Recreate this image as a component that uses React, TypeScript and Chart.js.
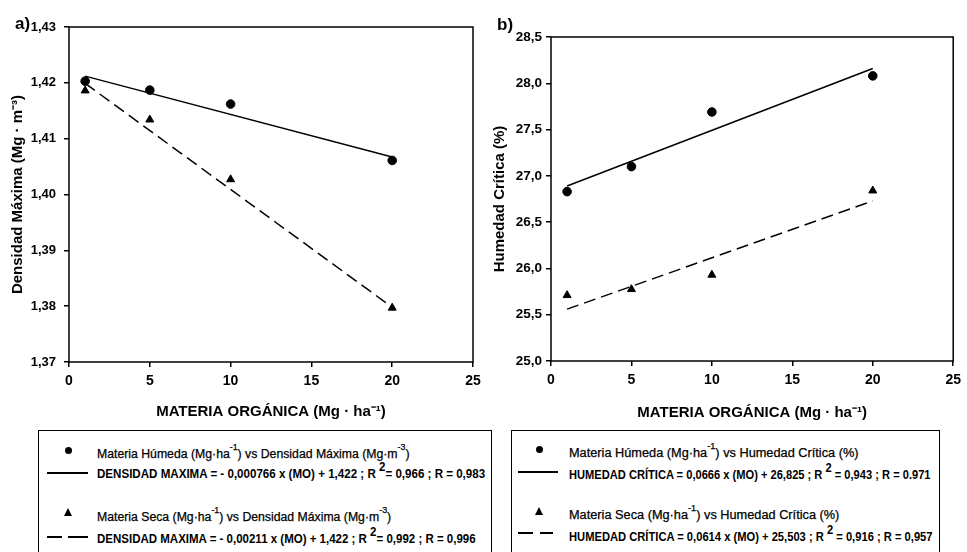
import React, { useEffect, useRef } from "react";
import { Chart, registerables } from "chart.js";

Chart.register(...registerables);

const NARROW = "'Liberation Sans Narrow', 'Arial Narrow', 'Liberation Sans', Arial, sans-serif";
const SANS = "'Liberation Sans', Arial, sans-serif";

// ---- data ----
const materiaOrganica = [1, 5, 10, 20];
const fitRange = [1, 20];
const xTickValues = [0, 5, 10, 15, 20, 25];

const densidadHumeda = [1.4203, 1.4187, 1.4162, 1.4061];
const densidadSeca = [1.4186, 1.4134, 1.4027, 1.3797];
const densidadFitHumeda = [1.4212, 1.4067];
const densidadFitSeca = [1.4199, 1.3798];
const densidadTicks = [1.37, 1.38, 1.39, 1.4, 1.41, 1.42, 1.43];

const humedadHumeda = [26.83, 27.1, 27.69, 28.08];
const humedadSeca = [25.71, 25.775, 25.93, 26.84];
const humedadFitHumeda = [26.89, 28.16];
const humedadFitSeca = [25.56, 26.73];
const humedadTicks = [25.0, 25.5, 26.0, 26.5, 27.0, 27.5, 28.0, 28.5];

const xTitle = "MATERIA ORGÁNICA (Mg · ha⁻¹)";
const yTitleA = "Densidad Máxima (Mg · m⁻³)";
const yTitleB = "Humedad Crítica (%)";

const framePlugin = {
  id: "frame",
  beforeDatasetsDraw(chart: any) {
    const { ctx, chartArea } = chart;
    ctx.save();
    ctx.strokeStyle = "#000";
    ctx.lineWidth = 1.5;
    ctx.strokeRect(chartArea.left, chartArea.top, chartArea.right - chartArea.left, chartArea.bottom - chartArea.top);
    ctx.restore();
  },
};

type PanelSpec = {
  humeda: number[];
  seca: number[];
  fitHumeda: number[];
  fitSeca: number[];
  yTicks: number[];
  decimals: number;
  yTitle: string;
  padTop: number;
  padRight: number;
  yWidth: number;
  xHeight: number;
  yTickPad: number;
  yTickSize: number;
  yTitlePad: number;
  xTitlePad: number;
};

function makeConfig(p: PanelSpec): any {
  const pts = (xs: number[], ys: number[]) => xs.map((x, i) => ({ x, y: ys[i] }));
  const gridCommon = {
    display: true,
    drawOnChartArea: false,
    drawTicks: true,
    tickLength: 5,
    color: "#000",
    lineWidth: 1.5,
  };
  return {
    type: "scatter",
    data: {
      datasets: [
        {
          label: "Materia Húmeda",
          data: pts(materiaOrganica, p.humeda),
          pointStyle: "circle",
          pointRadius: 4.3,
          backgroundColor: "#000",
          borderColor: "#000",
          showLine: false,
        },
        {
          label: "Materia Seca",
          data: pts(materiaOrganica, p.seca),
          pointStyle: "triangle",
          pointRadius: 4.6,
          backgroundColor: "#000",
          borderColor: "#000",
          showLine: false,
        },
        {
          label: "fit húmeda",
          data: pts(fitRange, p.fitHumeda),
          showLine: true,
          borderColor: "#000",
          borderWidth: 1.5,
          pointRadius: 0,
        },
        {
          label: "fit seca",
          data: pts(fitRange, p.fitSeca),
          showLine: true,
          borderColor: "#000",
          borderWidth: 1.5,
          borderDash: [12, 6],
          pointRadius: 0,
        },
      ],
    },
    options: {
      responsive: false,
      animation: false,
      devicePixelRatio: 1,
      layout: { padding: { top: p.padTop, right: p.padRight, left: 0, bottom: 0 } },
      plugins: { legend: { display: false }, tooltip: { enabled: false } },
      scales: {
        x: {
          type: "linear",
          min: 0,
          max: 25,
          afterBuildTicks: (s: any) => {
            s.ticks = xTickValues.map((v) => ({ value: v }));
          },
          afterFit: (s: any) => {
            s.height = p.xHeight;
          },
          ticks: {
            color: "#000",
            padding: 6,
            maxRotation: 0,
            autoSkip: false,
            font: { family: SANS, size: 14, weight: "bold" },
            callback: (v: any) => String(v),
          },
          grid: gridCommon,
          border: { display: false },
          title: {
            display: true,
            text: xTitle,
            color: "#000",
            font: { family: NARROW, size: 15, weight: "bold" },
            padding: { top: 0, bottom: p.xTitlePad },
          },
        },
        y: {
          type: "linear",
          min: p.yTicks[0],
          max: p.yTicks[p.yTicks.length - 1],
          afterBuildTicks: (s: any) => {
            s.ticks = p.yTicks.map((v) => ({ value: v }));
          },
          afterFit: (s: any) => {
            s.width = p.yWidth;
          },
          ticks: {
            color: "#000",
            padding: p.yTickPad,
            autoSkip: false,
            font: { family: NARROW, size: p.yTickSize, weight: "bold" },
            callback: (v: any) => Number(v).toFixed(p.decimals).replace(".", ","),
          },
          grid: gridCommon,
          border: { display: false },
          title: {
            display: true,
            text: p.yTitle,
            color: "#000",
            font: { family: NARROW, size: 15, weight: "bold" },
            padding: { top: p.yTitlePad, bottom: 0 },
          },
        },
      },
    },
    plugins: [framePlugin],
  };
}

const panelA: PanelSpec = {
  humeda: densidadHumeda,
  seca: densidadSeca,
  fitHumeda: densidadFitHumeda,
  fitSeca: densidadFitSeca,
  yTicks: densidadTicks,
  decimals: 2,
  yTitle: yTitleA,
  padTop: 27,
  padRight: 17,
  yWidth: 69,
  xHeight: 68,
  yTickPad: 8,
  yTickSize: 13,
  yTitlePad: 9,
  xTitlePad: 9,
};

const panelB: PanelSpec = {
  humeda: humedadHumeda,
  seca: humedadSeca,
  fitHumeda: humedadFitHumeda,
  fitSeca: humedadFitSeca,
  yTicks: humedadTicks,
  decimals: 1,
  yTitle: yTitleB,
  padTop: 37,
  padRight: 9,
  yWidth: 61,
  xHeight: 69,
  yTickPad: 4,
  yTickSize: 13.5,
  yTitlePad: 1,
  xTitlePad: 8,
};

function ChartPanel({ spec, left, width }: { spec: PanelSpec; left: number; width: number }) {
  const ref = useRef<HTMLCanvasElement | null>(null);
  useEffect(() => {
    if (!ref.current) return;
    const chart = new Chart(ref.current, makeConfig(spec));
    return () => chart.destroy();
  }, [spec]);
  return (
    <canvas
      ref={ref}
      width={width}
      height={430}
      style={{ position: "absolute", left, top: 0, width, height: 430 }}
    />
  );
}

const Dot = ({ x, y }: { x: number; y: number }) => (
  <div
    style={{
      position: "absolute",
      left: x - 3.5,
      top: y - 3.5,
      width: 7,
      height: 7,
      borderRadius: "50%",
      background: "#000",
    }}
  />
);

const Tri = ({ x, y }: { x: number; y: number }) => (
  <svg style={{ position: "absolute", left: x - 4, top: y - 4 }} width={8} height={8}>
    <polygon points="4,0 8,8 0,8" fill="#000" />
  </svg>
);

const HLine = ({ x1, x2, y }: { x1: number; x2: number; y: number }) => (
  <div style={{ position: "absolute", left: x1, top: y - 0.75, width: x2 - x1, height: 1.5, background: "#000" }} />
);

const Txt = ({
  x,
  y,
  bold,
  scale = 1,
  children,
}: {
  x: number;
  y: number;
  bold?: boolean;
  scale?: number;
  children: React.ReactNode;
}) => (
  <div
    style={{
      position: "absolute",
      left: x,
      top: y - 8,
      lineHeight: "16px",
      height: 16,
      fontFamily: NARROW,
      fontSize: 12.5,
      fontWeight: bold ? "bold" : "normal",
      WebkitTextStroke: bold ? undefined : "0.25px #000",
      whiteSpace: "nowrap",
      color: "#000",
      transform: `scaleX(${scale})`,
      transformOrigin: "0 50%",
    }}
  >
    {children}
  </div>
);

const supStyle: React.CSSProperties = { fontSize: 9, verticalAlign: "top", position: "relative", top: -3, lineHeight: "9px" };
const sup2Style: React.CSSProperties = { fontSize: 12.5, verticalAlign: "top", position: "relative", top: -5, lineHeight: "12px" };

export default function App() {
  return (
    <div
      style={{
        position: "fixed",
        left: 0,
        top: 0,
        width: 967,
        height: 552,
        background: "#fff",
        overflow: "hidden",
      }}
    >
      <ChartPanel spec={panelA} left={0} width={490} />
      <ChartPanel spec={panelB} left={490} width={477} />
      <div style={{ position: "absolute", left: 15, top: 13, fontFamily: SANS, fontWeight: "bold", fontSize: 17, lineHeight: "22px" }}>a)</div>
      <div style={{ position: "absolute", left: 497, top: 14, fontFamily: SANS, fontWeight: "bold", fontSize: 17, lineHeight: "22px" }}>b)</div>

      {/* legend a */}
      <div style={{ position: "absolute", left: 38, top: 430, width: 452, height: 140, border: "1.5px solid #000" }} />
      <Dot x={68} y={450} />
      <Txt x={97} y={454} scale={0.98}>
        Materia Húmeda (Mg·ha<span style={supStyle}>-1</span>) vs Densidad Máxima (Mg·m<span style={supStyle}>-3</span>)
      </Txt>
      <HLine x1={47} x2={88} y={473} />
      <Txt x={97} y={474} bold scale={0.926}>
        DENSIDAD MAXIMA = - 0,000766 x (MO) + 1,422 ; R <span style={sup2Style}>2</span>= 0,966 ; R = 0,983
      </Txt>
      <Tri x={68} y={512} />
      <Txt x={97} y={517} scale={0.98}>
        Materia Seca (Mg·ha<span style={supStyle}>-1</span>) vs Densidad Máxima (Mg·m<span style={supStyle}>-3</span>)
      </Txt>
      <HLine x1={47} x2={62} y={537} />
      <HLine x1={68} x2={88} y={537} />
      <Txt x={97} y={539} bold scale={0.92}>
        DENSIDAD MAXIMA = - 0,00211 x (MO) + 1,422 ; R <span style={sup2Style}>2</span>= 0,992 ; R = 0,996
      </Txt>

      {/* legend b */}
      <div style={{ position: "absolute", left: 511, top: 430, width: 427, height: 140, border: "1.5px solid #000" }} />
      <Dot x={539} y={449} />
      <Txt x={569} y={453} scale={1.02}>
        Materia Húmeda (Mg·ha<span style={supStyle}>-1</span>) vs Humedad Crítica (%)
      </Txt>
      <HLine x1={518} x2={558} y={472} />
      <Txt x={569} y={475} bold scale={0.889}>
        HUMEDAD CRÍTICA = 0,0666 x (MO) + 26,825 ; R <span style={sup2Style}>2</span> = 0,943 ; R = 0.971
      </Txt>
      <Tri x={539} y={511} />
      <Txt x={569} y={515} scale={1.02}>
        Materia Seca (Mg·ha<span style={supStyle}>-1</span>) vs Humedad Crítica (%)
      </Txt>
      <HLine x1={518} x2={533} y={533} />
      <HLine x1={540} x2={553} y={533} />
      <Txt x={569} y={537} bold scale={0.894}>
        HUMEDAD CRÍTICA = 0,0614 x (MO) + 25,503 ; R <span style={sup2Style}>2</span> = 0,916 ; R = 0,957
      </Txt>
    </div>
  );
}
